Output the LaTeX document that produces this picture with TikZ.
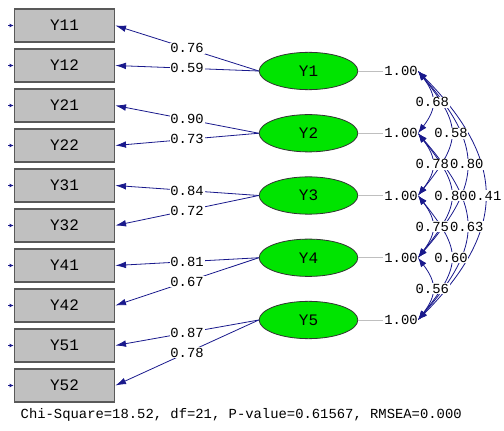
\documentclass[tikz,border=0pt]{standalone}
\usepackage{fontspec}
\setmonofont{Liberation Mono}
\usetikzlibrary{shapes.geometric,arrows.meta}
\definecolor{pathblue}{RGB}{25,25,140}
\definecolor{boxgray}{RGB}{192,192,192}
\definecolor{latgreen}{RGB}{0,228,0}

\begin{document}
\begin{tikzpicture}[x=0.75pt,y=-0.75pt,
    obs/.style={rectangle, draw=black!65, line width=1.3pt, fill=boxgray,
      minimum width=75pt, minimum height=25pt, inner sep=0pt,
      font=\ttfamily\fontsize{12}{12}\selectfont},
    lat/.style={ellipse, draw=black!80, line width=0.6pt, fill=latgreen,
      minimum width=74pt, minimum height=28pt, inner sep=0pt,
      font=\ttfamily\fontsize{12}{12}\selectfont},
    lbl/.style={fill=white, inner sep=0.6pt, font=\ttfamily\fontsize{10.4}{10.4}\selectfont},
    load/.style={draw=pathblue, line width=0.6pt, -{Latex[length=8pt,width=5pt]}},
    cov/.style={draw=pathblue, line width=0.6pt,
      {Latex[length=7pt,width=5pt]}-{Latex[length=7pt,width=5pt]}}]

    \useasboundingbox (0,0) rectangle (504,431);

    % Observed variables with error stubs
    \foreach \n [count=\k from 0] in {11,12,21,22,31,32,41,42,51,52} {
        \node [obs] (Y\n) at (64.5, {25.5+40*\k}) {Y\n};
        \coordinate (e\n) at (8, {25.5+40*\k});
        \draw [pathblue, line width=0.8pt, -{Latex[length=3pt,width=3pt]}] (e\n) -- (Y\n.west);
    }

    % Latent variables and variances
    \foreach \i in {1,...,5} {
        \node [lat] (Y\i) at (308.5, {71+62.25*(\i-1)}) {Y\i};
        \node [lbl, fill=none] (v\i) at (401, {71+62.25*(\i-1)}) {1.00};
        \coordinate (c\i) at (418, {71+62.25*(\i-1)});
        \draw [black!25, line width=0.6pt] (Y\i.east) -- (v\i.west);
    }

    % Loadings
    \foreach \i/\a/\b in {1/0.76/0.59, 2/0.90/0.73, 3/0.84/0.72, 4/0.81/0.67, 5/0.87/0.78} {
        \draw [load] (Y\i.west) -- node [lbl] {\a} (Y\i1.east);
        \draw [load] (Y\i.west) -- node [lbl] {\b} (Y\i2.east);
    }

    % Covariances between latent variables
    \foreach \i/\j/\r/\a/\b in {1/5/0.41/89/90, 1/4/0.80/65/75, 2/5/0.63/65/75,
        1/3/0.58/44/55, 2/4/0.80/44/55, 3/5/0.60/44/55,
        1/2/0.68/19/25, 2/3/0.78/19/25, 3/4/0.75/19/25, 4/5/0.56/19/25} {
        \draw [cov] (c\i) .. controls +(\a,\b) and +(\a,-\b) .. node [lbl] {\r} (c\j);
    }

    \node [anchor=west, font=\ttfamily\fontsize{10.4}{10.4}\selectfont] (fit) at (16, 415)
        {Chi-Square=18.52, df=21, P-value=0.61567, RMSEA=0.000};
\end{tikzpicture}
\end{document}
